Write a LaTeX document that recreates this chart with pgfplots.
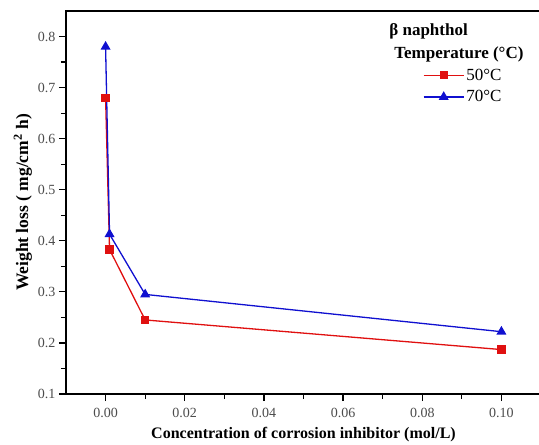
\documentclass[border=0pt]{standalone}
\usepackage{fontspec}
\setmainfont{Liberation Serif}
\usepackage{pgfplots}
\pgfplotsset{compat=1.18}
\definecolor{redline}{HTML}{E01010}
\definecolor{blueline}{HTML}{1010D0}

\begin{document}
\begin{tikzpicture}
\begin{axis}[
    name=main,
    at={(0,0)}, anchor=south west,
    scale only axis,
    width=475pt,
    height=383pt,
    axis lines=box,
    xmin=-0.01, xmax=0.11,
    ymin=0.1, ymax=0.85,
    xtick={0,0.02,0.04,0.06,0.08,0.1},
    ytick={0.1,0.2,0.3,0.4,0.5,0.6,0.7,0.8},
    minor x tick num=1,
    minor y tick num=1,
    tick align=outside,
    xtick pos=bottom,
    ytick pos=left,
    axis line style={line width=1.6pt, black},
    major tick style={line width=1.2pt, black},
    minor tick style={line width=1.2pt, black},
    major tick length=7pt,
    minor tick length=5pt,
    /pgf/number format/assume math mode=true,
    xticklabel style={/pgf/number format/.cd, fixed, fixed zerofill, precision=2, /tikz/.cd, yshift=-4pt},
    yticklabel style={/pgf/number format/.cd, fixed, fixed zerofill, precision=1},
    ticklabel style={font=\fontsize{14}{16}\selectfont, text=black!70},
    xlabel={\textbf{Concentration of corrosion inhibitor (mol/L)}},
    ylabel={\textbf{Weight loss ( mg/cm\textsuperscript{2} h)}},
    xlabel style={font=\fontsize{16}{18}\selectfont, yshift=-2pt},
    ylabel style={font=\fontsize{17.5}{19}\selectfont, yshift=-1pt},
    legend style={draw=none, fill=none, at={(0.745,0.977)}, anchor=north west,
        font=\fontsize{17}{19}\selectfont, row sep=5pt},
    legend cell align=left,
    legend image code/.code={\draw[mark repeat=2,mark phase=2] plot coordinates {(0pt,0pt) (20pt,0pt) (40pt,0pt)};},
]
\addlegendimage{empty legend}
\addlegendentry{\hspace*{-77pt}\textbf{β naphthol}}
\addlegendimage{empty legend}
\addlegendentry{\hspace*{-72pt}\textbf{Temperature (°C)}}
\addplot[color=redline, line width=1.3pt, mark=square*, mark size=3.5pt] coordinates {
    (0,0.68) (0.001,0.383) (0.01,0.245) (0.1,0.187)
};
\addlegendentry{50°C}
\addplot[color=blueline, line width=1.3pt, mark=triangle*, mark size=4.5pt] coordinates {
    (0,0.78) (0.001,0.413) (0.01,0.295) (0.1,0.222)
};
\addlegendentry{70°C}
\end{axis}
\pgfresetboundingbox
\useasboundingbox (-66pt,-51pt) rectangle (473pt,394pt);
\end{tikzpicture}
\end{document}
